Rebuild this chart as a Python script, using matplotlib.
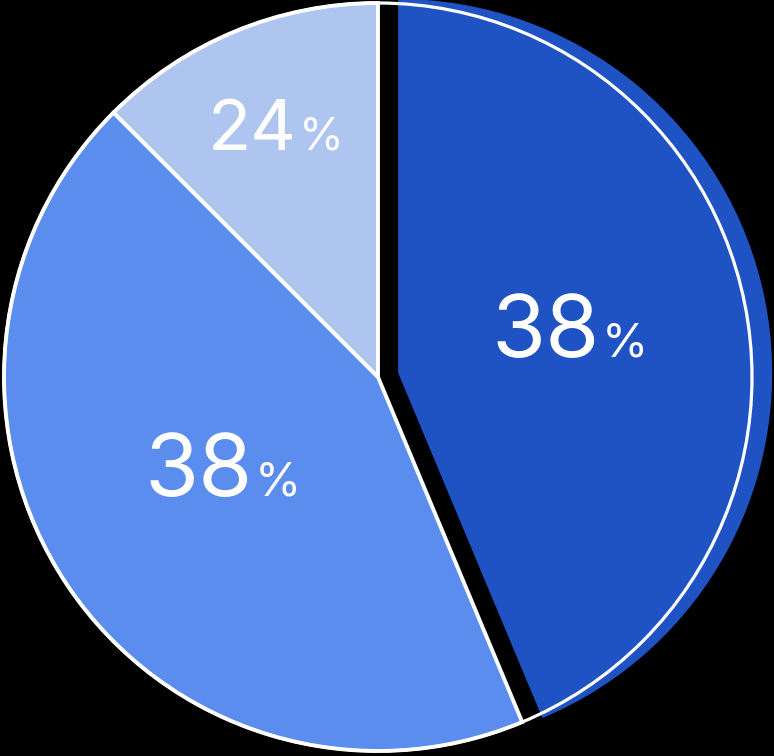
import matplotlib.pyplot as plt
from matplotlib.patches import Circle

# slice sizes as drawn, and the printed labels
sizes = [43.7, 43.8, 12.5]
labels = ["38", "38", "24"]
colors = ["#1F53C4", "#5B8DEE", "#AEC5EF"]
explode = [0.055, 0, 0]

# pixel geometry of the reference
W, H = 774, 756
CX, CY, R = 378, 377, 374


def to_data(px, py):
    return (px - CX) / R, (CY - py) / R


fig = plt.figure(figsize=(W / 100, H / 100), dpi=100, facecolor="black")
ax = fig.add_axes([0, 0, 1, 1])
ax.set_facecolor("black")

wedges, _ = ax.pie(sizes, colors=colors, explode=explode, startangle=90,
                   counterclock=False, radius=1,
                   wedgeprops=dict(edgecolor="white", linewidth=2.8))
wedges[0].set_edgecolor("none")
wedges[0].set_zorder(0.5)

# white outline of the whole pie
ax.add_patch(Circle((0, 0), 1, fill=False, edgecolor="white", linewidth=2.3, zorder=3))

# labels: (number end x, baseline y, number size, percent size)
label_pos = [(600, 357, 63, 34), (253, 496, 63, 34), (297, 150, 51, 33)]
for lab, (px, py, s1, s2) in zip(labels, label_pos):
    x, y = to_data(px, py)
    ax.text(x, y, lab, color="white", fontsize=s1, family="Inter",
            ha="right", va="baseline", zorder=4)
    ax.text(x + 2 / R, y, "%", color="white", fontsize=s2, family="Inter",
            ha="left", va="baseline", zorder=4)

x0, y1 = to_data(0, 0)
x1, y0 = to_data(W, H)
ax.set_aspect("auto")
ax.set_xlim(x0, x1)
ax.set_ylim(y0, y1)
ax.axis("off")

plt.savefig("out.png", dpi=100, facecolor="black")
plt.close()
